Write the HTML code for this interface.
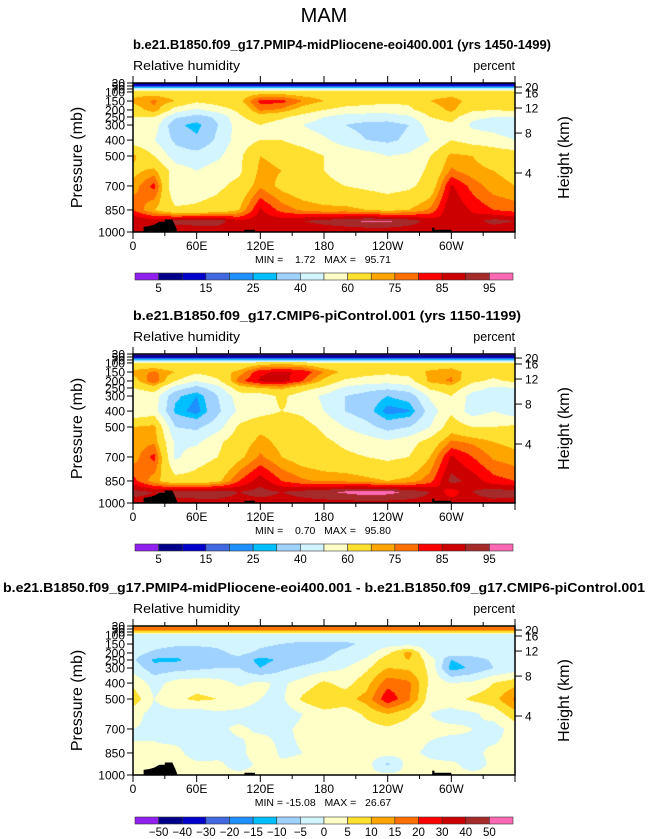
<!DOCTYPE html>
<html><head><meta charset="utf-8"><style>
html,body{margin:0;padding:0;background:#fff;}
#wrap{position:relative;width:648px;height:839px;overflow:hidden;}
canvas{position:absolute;}
svg{position:absolute;left:0;top:0;}
text{font-family:"Liberation Sans",sans-serif;fill:#000;}
.pre{white-space:pre;}
</style></head><body>
<div id="wrap">
<canvas id="c1" width="382" height="149" style="left:133px;top:83px"></canvas>
<canvas id="c2" width="382" height="149" style="left:133px;top:354px"></canvas>
<canvas id="c3" width="382" height="149" style="left:133px;top:626px"></canvas>
<svg id="ov" width="648" height="839"></svg>
</div>
<script>
// ---- data ----
const lons=[0,20,40,60,80,100,120,140,160,180,200,220,240,260,280,300,320,340,360];
const pLevels=[30,50,70,100,150,200,250,300,400,500,600,700,850,925,1000];
const rhBounds=[5,10,15,20,25,30,40,50,60,70,75,80,85,90,95];
const rhLabels=["5","","15","","25","","40","","60","","75","","85","","95"];
const diffBounds=[-50,-40,-30,-20,-15,-10,-5,0,5,10,15,20,30,40,50];
const diffLabels=["−50","−40","−30","−20","−15","−10","−5","0","5","10","15","20","30","40","50"];
const pTickLabels=[30,50,70,100,150,200,250,300,400,500,700,850,1000];
const hTickLabels=[20,16,12,8,4];
const lonTickLabels=["0","60E","120E","180","120W","60W"];
const rh1=[
[8,8,8,8,8,8,8,8,8,8,8,8,8,8,8,8,8,8,8],
[14,14,14,14,14,14,14,14,14,14,14,14,14,14,14,14,14,14,14],
[45,45,45,45,45,45,45,45,45,45,45,45,45,45,45,45,45,45,45],
[66,66,65,65,65,65,66,66,65,65,65,65,65,65,65,65,65,65,66],
[72,76,70,62,65,68,82,82,75,70,66,64,62,62,70,74,66,64,70],
[65,74,55,48,55,62,76,74,66,60,56,55,55,58,65,72,62,60,62],
[60,60,42,36,42,58,66,62,56,50,46,45,45,48,60,64,52,50,50],
[52,55,32,27,40,55,60,55,50,45,40,37,36,40,55,58,48,45,40],
[55,50,38,32,42,55,60,60,56,52,45,40,38,42,50,60,56,55,50],
[72,60,45,44,48,58,70,68,65,60,58,55,50,52,60,72,70,66,66],
[68,72,55,50,55,58,72,70,66,60,57,55,52,55,62,76,72,70,68],
[72,82,50,55,58,63,74,68,64,62,60,58,56,58,64,86,78,72,70],
[80,70,62,62,64,70,86,78,74,72,72,70,68,70,76,90,84,80,78],
[90,88,92,93,93,86,88,88,90,92,94,96,96,93,88,86,88,92,90],
[86,86,86,86,86,86,86,86,86,86,86,86,86,86,86,86,86,86,86]];
const rh2=[
[2,2,2,2,2,2,2,2,2,2,2,2,2,2,2,2,2,2,2],
[9,9,9,9,9,9,9,9,9,9,9,9,9,9,9,9,9,9,9],
[30,30,30,30,30,30,30,30,30,30,30,30,30,30,30,30,30,30,30],
[62,62,60,60,60,62,66,68,66,62,60,60,60,60,62,64,60,60,62],
[72,76,70,62,66,72,84,86,84,75,68,64,62,64,72,74,66,64,70],
[66,80,60,50,58,78,86,88,80,68,58,55,54,56,72,76,62,58,62],
[60,66,45,36,46,66,70,72,64,58,48,44,42,46,62,66,54,48,50],
[52,55,32,25,40,55,55,62,55,48,40,36,30,34,52,60,46,45,40],
[52,55,28,22,38,52,56,60,58,50,40,34,22,24,45,58,45,50,44],
[70,72,40,38,46,62,68,68,64,58,50,44,36,40,50,66,60,60,62],
[72,74,48,48,58,66,72,68,65,62,58,55,52,56,64,76,74,70,68],
[72,82,48,56,60,68,76,70,66,64,62,60,58,60,70,86,80,74,72],
[82,72,64,64,68,80,88,80,76,74,74,72,70,72,78,92,88,82,80],
[92,90,92,93,93,90,92,90,92,94,96,98,97,94,90,82,90,93,92],
[88,88,88,88,88,88,88,88,88,88,88,88,88,88,88,88,88,88,88]];
const diff=[
[12,12,12,12,12,12,12,12,12,12,12,12,12,12,12,12,12,12,12],
[18,18,18,18,18,18,18,18,18,18,18,18,18,18,18,18,18,18,18],
[8,8,8,8,8,8,8,8,8,8,8,8,8,8,8,8,8,8,8],
[-2,-2,-2,-2,-2,-2,-2,-2,-2,-2,-2,-2,-2,-2,-2,-2,-2,-2,-2],
[-3,-3,-4,-4,-4,-2,-4,-5,-6,-6,-6,-4,-2,-2,-3,-2,-1,-1,-3],
[-3,-6,-8,-8,-6,-4,-6,-8,-7,-6,-4,-2,4,12,-2,-2,-2,-1,-3],
[-4,-11,-11,-8,-6,-6,-12,-9,-7,-5,-3,1,8,10,3,-10,-8,-4,-4],
[-2,-8,-7,-6,-5,-5,-10,-6,-4,-2,0,4,10,9,4,-12,-9,-5,-3],
[4,-2,2,3,2,-1,1,-1,2,6,3,8,18,16,4,0,1,5,8],
[8,0,4,6,5,4,0,-1,6,10,8,12,24,16,2,3,6,8,16],
[2,-2,-2,-3,-1,-2,-3,-3,0,3,2,6,10,6,0,-2,-1,2,8],
[0,-1,-4,-2,-1,1,-1,-1,1,2,2,3,4,2,1,1,0,-2,2],
[0,1,2,-3,-2,-2,4,-1,0,1,1,2,2,1,-1,-3,-1,1,1],
[1,2,3,1,1,-2,1,1,1,2,2,2,-6,2,1,1,-2,1,2],
[1,1,1,1,1,1,1,1,1,1,1,1,1,1,1,1,1,1,1]];
const landLon=[10,10,15,20,25,30,30,37,40,42,42,105,105,115,115,282,282,284,284,300,300];
const landP=[1000,965,960,950,930,930,915,915,960,1000,1000,1000,985,985,1000,1000,970,970,985,985,1000];
// ---- styling (not data) ----
const palette=["#9020f0","#00008b","#0000cd","#4169e1","#1e90ff","#00bfff","#a0d2ff","#d2f5ff","#ffffc8","#ffe030","#ffa500","#ff7000","#ff0000","#cd0000","#a52a2a","#ff69b4"];
const pFrac=[0,.02,.04,.06,.121,.181,.228,.282,.383,.49,.59,.691,.852,.926,1];
const PX=133,PW=382,PH=149;
const tops=[83,354,626];
function yOfP(p){for(let i=0;i<pLevels.length-1;i++){if(p<=pLevels[i+1]){const t=(p-pLevels[i])/(pLevels[i+1]-pLevels[i]);return (pFrac[i]+t*(pFrac[i+1]-pFrac[i]))*PH;}}return PH;}
function xOfLon(l){return l/360*PW;}
function hexRgb(h){return [parseInt(h.substr(1,2),16),parseInt(h.substr(3,2),16),parseInt(h.substr(5,2),16)];}
const rgbPal=palette.map(hexRgb);
function draw(id,grid,bounds){
  const cv=document.getElementById(id),ctx=cv.getContext('2d');
  const img=ctx.createImageData(PW,PH);
  for(let py=0;py<PH;py++){
    const f=(py+0.5)/PH;let r=0;
    while(r<pFrac.length-2&&f>pFrac[r+1])r++;
    const ty=(f-pFrac[r])/(pFrac[r+1]-pFrac[r]);
    for(let px=0;px<PW;px++){
      const lon=(px+0.5)/PW*360;let c=Math.min(Math.floor(lon/20),lons.length-2);
      const tx=(lon-lons[c])/20;
      const v=(grid[r][c]*(1-tx)+grid[r][c+1]*tx)*(1-ty)+(grid[r+1][c]*(1-tx)+grid[r+1][c+1]*tx)*ty;
      let k=0;while(k<bounds.length&&v>=bounds[k])k++;
      const col=rgbPal[k],o=(py*PW+px)*4;
      img.data[o]=col[0];img.data[o+1]=col[1];img.data[o+2]=col[2];img.data[o+3]=255;
    }
  }
  ctx.putImageData(img,0,0);
}
draw('c1',rh1,rhBounds);draw('c2',rh2,rhBounds);draw('c3',diff,diffBounds);
const NS='http://www.w3.org/2000/svg',ov=document.getElementById('ov');
function mk(tag,attrs,txt){const e=document.createElementNS(NS,tag);for(const k in attrs)e.setAttribute(k,attrs[k]);if(txt!==undefined)e.textContent=txt;ov.appendChild(e);return e;}
let e=mk('text',{x:324,y:22,'font-size':20,'text-anchor':'middle',fill:'#333','font-weight':'300'},'MAM');


const titles=[["b.e21.B1850.f09_g17.PMIP4-midPliocene-eoi400.001 (yrs 1450-1499)",133,551,49],["b.e21.B1850.f09_g17.CMIP6-piControl.001 (yrs 1150-1199)",133,521,320],["b.e21.B1850.f09_g17.PMIP4-midPliocene-eoi400.001 - b.e21.B1850.f09_g17.CMIP6-piControl.001",3,645,592]];
const minmax=["MIN =    1.72   MAX =   95.71","MIN =    0.70   MAX =   95.80","MIN = -15.08   MAX =   26.67"];
const cbTops=[273,544,817];
for(let n=0;n<3;n++){
  const T=tops[n];
  e=mk('text',{x:titles[n][1],y:titles[n][3],'font-size':13,'font-weight':'bold',textLength:titles[n][2]-titles[n][1],lengthAdjust:'spacingAndGlyphs'},titles[n][0]);
  
  
  e=mk('text',{x:133,y:T-13,'font-size':12.5,textLength:107,lengthAdjust:'spacingAndGlyphs'},'Relative humidity');
  
  
  e=mk('text',{x:515,y:T-13,'font-size':12.5,'text-anchor':'end'},'percent');
  
  
  let pts=[];for(let i=0;i<landLon.length;i++)pts.push((PX+xOfLon(landLon[i])).toFixed(1)+','+(T+yOfP(landP[i])).toFixed(1));
  e=mk('polygon',{points:pts.join(' '),fill:'#000'});
  
  
  e=mk('rect',{x:PX,y:T,width:PW,height:PH,fill:'none',stroke:'#000','stroke-width':1.5});
  
  
  for(let l=0;l<=360;l+=30){
    const x=PX+xOfLon(l),len=(l%60===0)?7:4;
    e=mk('line',{x1:x,x2:x,y1:T,y2:T-len,stroke:'#000','stroke-width':1});
    
    
    e=mk('line',{x1:x,x2:x,y1:T+PH,y2:T+PH+len,stroke:'#000','stroke-width':1});
    
    
  }
  lonTickLabels.forEach((s,i)=>{
    e=mk('text',{x:PX+xOfLon(i*60),y:T+PH+18,'font-size':12,'text-anchor':'middle'},s);
    
    
  });
  pTickLabels.forEach(p=>{
    const y=T+yOfP(p);
    e=mk('line',{x1:PX,x2:PX-6,y1:y,y2:y,stroke:'#000'});
    
    
    e=mk('text',{x:PX-8,y:y+4.5,'font-size':12,'text-anchor':'end'},String(p));
    
    
  });
  const hFrac=[.027,.067,.168,.336,.604];
  hTickLabels.forEach((h,i)=>{
    const y=T+hFrac[i]*PH;
    e=mk('line',{x1:PX+PW,x2:PX+PW+7,y1:y,y2:y,stroke:'#000'});
    
    
    e=mk('text',{x:PX+PW+10,y:y+4.5,'font-size':12},String(h));
    
    
  });
  e=mk('text',{x:0,y:0,'font-size':16,'text-anchor':'middle',transform:`translate(82,${T+PH/2}) rotate(-90)`},'Pressure (mb)');
  
  
  e=mk('text',{x:0,y:0,'font-size':16,'text-anchor':'middle',transform:`translate(569,${T+PH/2}) rotate(-90)`},'Height (km)');
  
  
  e=mk('text',{x:323,y:T+PH+31,'font-size':10.5,'text-anchor':'middle','class':'pre'},minmax[n]);
  
  
  const cy=cbTops[n],cx=135,cw=378/16;
  for(let k=0;k<16;k++){
    e=mk('rect',{x:cx+k*cw,y:cy,width:cw,height:7,fill:palette[k],stroke:'#333','stroke-width':0.6});
    
    
  }
  const labs=n<2?rhLabels:diffLabels;
  labs.forEach((s,k)=>{if(!s)return;
    e=mk('text',{x:cx+(k+1)*cw,y:cy+19,'font-size':11.5,'text-anchor':'middle'},s);
    
    
  });
}
</script>
</body></html>
